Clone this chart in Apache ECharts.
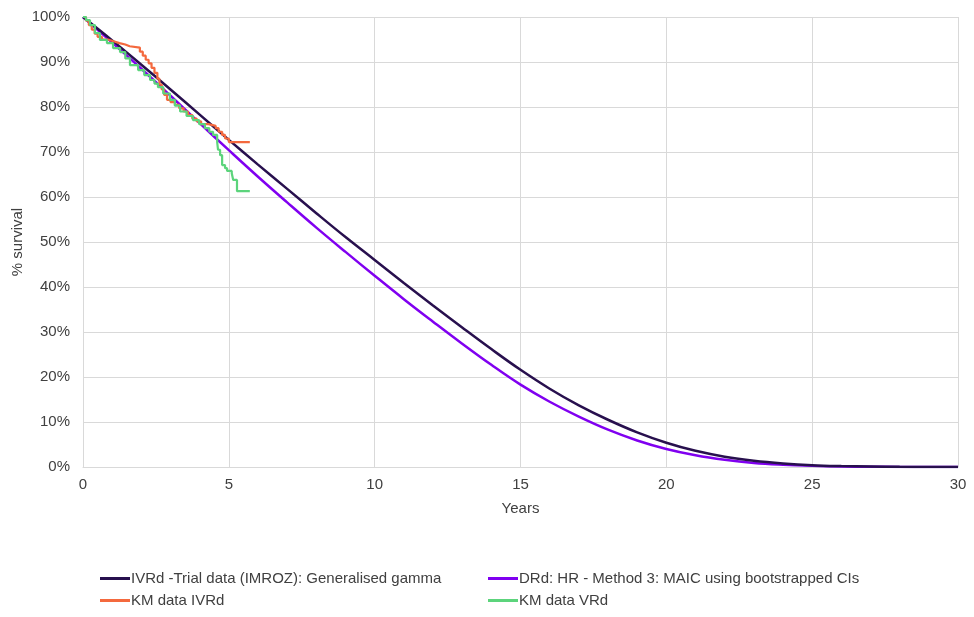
<!DOCTYPE html>
<html>
<head>
<meta charset="utf-8">
<script src="https://cdn.jsdelivr.net/npm/echarts@6/dist/echarts.min.js"></script>
<style>
html,body{margin:0;padding:0;background:#fff;}
#chart{width:974px;height:617px;}
</style>
</head>
<body>
<div id="chart"></div>
<script>
// Years for modelled curves
var curveYears = [0,1,2,3,4,5,6,7,8,9,10,11,12,13,14,15,16,17,18,19,20,21,22,23,24,25,26,27,28,29,30];
// IVRd - Trial data (IMROZ): Generalised gamma (% survival)
var ivrdGG = [100,94.8,89.4,83.9,78.3,72.7,67.2,61.8,56.4,51.1,46.0,40.9,35.9,31.0,26.2,21.6,17.4,13.7,10.5,7.7,5.4,3.6,2.3,1.4,0.8,0.4,0.2,0.1,0.04,0.02,0.01];
// DRd: HR - Method 3: MAIC using bootstrapped CIs (% survival)
var drdHR = [100,94.3,88.5,82.5,76.4,70.4,64.5,58.8,53.2,47.8,42.5,37.3,32.3,27.4,22.7,18.3,14.5,11.2,8.3,5.9,4.0,2.6,1.6,0.9,0.5,0.25,0.1,0.05,0.02,0.01,0];
// KM data IVRd
var kmIvrdT = [0,0.1,0.2,0.3,0.4,0.5,0.65,0.85,1.05,1.25,1.45,1.6,1.95,2.05,2.15,2.25,2.35,2.45,2.55,2.62,2.7,2.78,2.88,3.0,3.15,3.3,3.45,3.6,3.75,3.9,4.05,4.3,4.55,4.65,4.77,4.87,5.0,5.72];
var kmIvrdS = [100,99.2,98.2,97.2,96.3,95.6,95.0,94.6,94.2,93.9,93.5,93.2,92.3,91.4,90.5,89.7,88.7,87.6,86.3,85.0,83.9,82.7,81.6,81.1,80.5,79.7,79.0,78.2,77.4,76.8,76.2,75.8,75.3,74.5,73.8,73.0,72.2,72.2];
// KM data VRd
var kmVrdT = [0,0.1,0.24,0.41,0.58,0.82,1.03,1.27,1.45,1.61,1.89,2.1,2.3,2.45,2.57,2.75,2.98,3.15,3.33,3.55,3.77,3.98,4.18,4.33,4.46,4.6,4.63,4.7,4.77,4.87,4.94,5.1,5.15,5.28,5.72];
var kmVrdS = [100,99.3,98.2,96.4,94.9,94.2,93.1,92.2,90.8,89.3,88.2,87.1,86.0,85.2,84.4,83.0,81.6,80.3,79.0,78.0,77.1,76.2,75.3,74.5,73.8,72.2,70.5,69.3,67.1,66.4,65.8,65.3,63.8,61.3,61.3];

function pairs(xs, ys){ return xs.map(function(x,i){ return [x, ys[i]]; }); }

var names = [
  'IVRd -Trial data (IMROZ): Generalised gamma',
  'DRd: HR - Method 3: MAIC using bootstrapped CIs',
  'KM data IVRd',
  'KM data VRd'
];
var colors = ['#28104E','#8000F0','#F4693E','#5CD47C'];
var FS = 15;
var TXT = '#404040';

var chart = echarts.init(document.getElementById('chart'));
var legendBase = {
  icon: 'rect', itemWidth: 30, itemHeight: 3, itemGap: 0,
  textStyle: {fontFamily: 'Liberation Sans', fontSize: FS, color: TXT, padding:[0,0,0,-4]},
  padding: 0
};
function lg(name, left, top){
  return Object.assign({}, legendBase, {data:[name], left:left, top:top});
}
chart.setOption({
  animation: false,
  textStyle: {fontFamily: 'Liberation Sans'},
  grid: {left: 83, right: 16, top: 17, bottom: 150, containLabel: false, outerBoundsMode: 'none'},
  legend: [
    lg(names[0], 100, 571),
    lg(names[1], 488, 571),
    lg(names[2], 100, 593),
    lg(names[3], 488, 593)
  ],
  xAxis: {
    type: 'value', min: 0, max: 30, interval: 5,
    name: 'Years', nameLocation: 'middle', nameGap: 34, nameMoveOverlap: false,
    nameTextStyle: {fontSize: FS, color: TXT},
    axisLine: {lineStyle: {color: '#D9D9D9'}},
    axisTick: {show: false},
    axisLabel: {fontSize: FS, color: TXT, margin: 10},
    splitLine: {show: true, lineStyle: {color: '#D9D9D9'}}
  },
  yAxis: {
    type: 'value', min: 0, max: 100, interval: 10,
    name: '% survival', nameLocation: 'middle', nameGap: 58, nameMoveOverlap: false,
    nameTextStyle: {fontSize: FS, color: TXT},
    axisLine: {show: true, lineStyle: {color: '#D9D9D9'}},
    axisTick: {show: false},
    axisLabel: {fontSize: FS, color: TXT, formatter: '{value}%', margin: 13},
    splitLine: {show: true, lineStyle: {color: '#D9D9D9'}}
  },
  series: [
    {name: names[1], type: 'line', data: pairs(curveYears, drdHR), smooth: 0.4, showSymbol: false, lineStyle: {width: 2.5, color: colors[1]}, itemStyle: {color: colors[1]}, z: 2},
    {name: names[0], type: 'line', data: pairs(curveYears, ivrdGG), smooth: 0.4, showSymbol: false, lineStyle: {width: 2.5, color: colors[0]}, itemStyle: {color: colors[0]}, z: 3},
    {name: names[2], type: 'line', step: 'end', data: pairs(kmIvrdT, kmIvrdS), showSymbol: false, lineStyle: {width: 2.2, color: colors[2]}, itemStyle: {color: colors[2]}, z: 4},
    {name: names[3], type: 'line', step: 'end', data: pairs(kmVrdT, kmVrdS), showSymbol: false, lineStyle: {width: 2.2, color: colors[3]}, itemStyle: {color: colors[3]}, z: 5}
  ]
});
</script>
</body>
</html>
